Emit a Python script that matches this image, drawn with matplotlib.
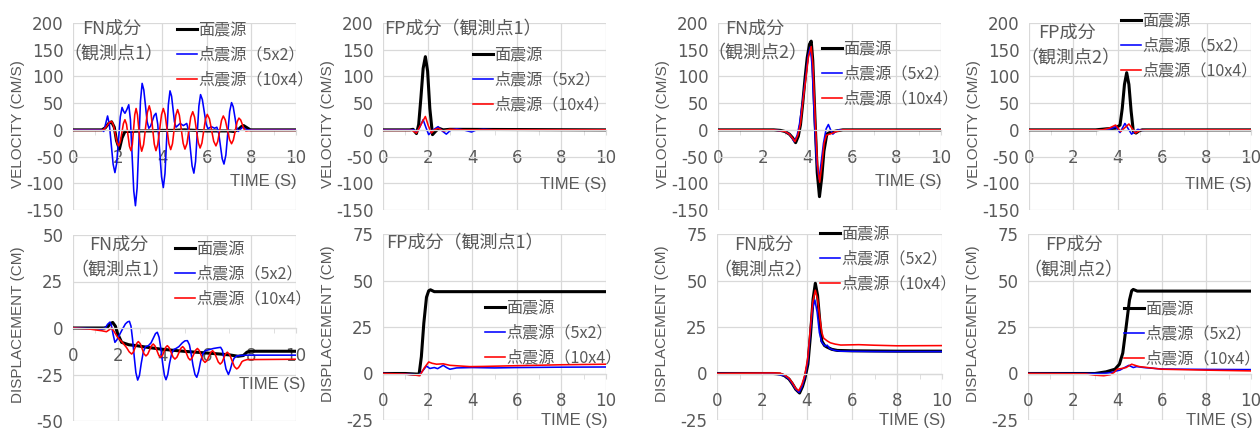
import matplotlib
matplotlib.use("Agg")
import matplotlib.pyplot as plt
from matplotlib.ticker import MultipleLocator

plt.rcParams["axes.unicode_minus"] = False

# ---------------------------------------------------------------- data
SERIES_LABELS = ["面震源", "点震源（5x2）", "点震源（10x4）"]
SERIES_COLORS = ["#000000", "#0000ff", "#ff0000"]
XTICKS = [0, 2, 4, 6, 8, 10]

# FN velocity, observation point 1
fn1_vel_area_t = [0, 1.3, 1.45, 1.6, 1.73, 1.85, 1.95, 2.08, 2.2, 2.33, 2.6, 3.0, 3.5, 4.0, 4.5,
                  5.0, 5.5, 6.0, 6.5, 7.0, 7.2, 7.4, 7.55, 7.65, 7.8, 7.95, 8.2, 10]
fn1_vel_area_v = [0, 0, 4, 12, 15, 5, -20, -36, -15, -3, -3, -2, -2, -1, -1,
                  0, -1, -2, -2, -2, -3, 0, 6, 8, 4, 0, 0, 0]
fn1_vel_5x2_t = [0, 1.3, 1.38, 1.465, 1.55, 1.63, 1.715, 1.8, 1.88, 1.96, 2.04, 2.12, 2.2, 2.265,
                 2.33, 2.415, 2.5, 2.575, 2.65, 2.725, 2.8, 2.875, 2.95, 3.025, 3.1, 3.175,
                 3.25, 3.325, 3.4, 3.48, 3.56, 3.64, 3.72, 3.8, 3.885, 3.97, 4.05, 4.125,
                 4.2, 4.275, 4.35, 4.42, 4.485, 4.55, 4.62, 4.8, 4.95, 5.1, 5.18, 5.26, 5.34,
                 5.42, 5.495, 5.57, 5.645, 5.72, 5.8, 5.885, 5.97, 6.05, 6.2, 6.35, 6.45,
                 6.53, 6.61, 6.69, 6.77, 6.855, 6.94, 7.025, 7.11, 7.185, 7.26, 7.335, 7.41,
                 7.6, 7.8, 10]
fn1_vel_5x2_v = [0, 0, -3, 11.5, 26, 10.5, -27, -64.5, -80, -62.2, -19, 24.2, 42, 35,
                 31, 38, 47, 19.4, -47.5, -114.4, -142, -108.6, -27.5, 53.6, 87, 74.7,
                 45, 15.3, 3, 7.1, 17, 26.9, 31, 10.7, -38.5, -87.7, -108, -81.6,
                 -17.5, 46.6, 73, 63, 39, 15, 5, 12, 8, 12, -1.6, -34.5, -67.4,
                 -81, -59.5, -7.5, 44.5, 66, 56.7, 34, 11.3, 2, 6, 3, 5,
                 -5, -29.5, -54, -64, -47.2, -6.5, 34.2, 51, 43.1, 24, 4.9, -3,
                 5, 0, 0]
fn1_vel_10x4_t = [0, 1.3, 1.41, 1.52, 1.62, 1.73, 1.81, 1.89, 1.97, 2.05, 2.12, 2.19, 2.26,
                  2.33, 2.40, 2.465, 2.53, 2.6, 2.66, 2.715, 2.77, 2.83, 2.89, 2.955, 3.02,
                  3.08, 3.165, 3.25, 3.335, 3.42, 3.495, 3.57, 3.645, 3.72, 3.8, 3.885, 3.97,
                  4.05, 4.13, 4.215, 4.3, 4.38, 4.46, 4.535, 4.61, 4.69, 4.77, 4.855, 4.94,
                  5.02, 5.11, 5.195, 5.28, 5.37, 5.45, 5.535, 5.62, 5.7, 5.78, 5.86, 5.94,
                  6.02, 6.12, 6.215, 6.31, 6.41, 6.49, 6.575, 6.66, 6.74, 6.83, 6.925, 7.02,
                  7.11, 7.19, 7.275, 7.36, 7.44, 7.52, 7.595, 7.67, 7.75, 8.0, 10]
fn1_vel_10x4_v = [-1, -1, 1.5, 7.5, 13.5, 16, 9.3, -7, -23.3, -30, -22.8, -5.5, 11.8,
                  19, 10.5, -10, -30.5, -39, -27.5, 0.5, 28.5, 40, 28.3, 0, -28.3,
                  -40, -27.6, 2.5, 32.6, 45, 32.7, 3, -26.7, -39, -27.5, 0.5, 28.5,
                  40, 28.8, 1.5, -25.8, -37, -26, 0.5, 27, 38, 27.2, 1, -25.2,
                  -36, -25.8, -1, 23.8, 34, 24, 0, -24, -34, -24.8, -2.5, 19.8,
                  29, 20.4, -0.5, -21.4, -30, -21.8, -2, 17.8, 26, 18.4, 0, -18.4,
                  -26, -19, -2, 15, 22, 18.5, 10, 1.5, -2, -1, -1]

# FP velocity, observation point 1
fp1_vel_area_t = [0, 1.2, 1.35, 1.5, 1.6, 1.7, 1.8, 1.9, 2.0, 2.1, 2.22, 2.35, 2.5, 2.7, 3.0, 10]
fp1_vel_area_v = [0, 0, 1, -7, 10, 60, 115, 137, 110, 40, -9, -3, 3, 0, 1, 0]
fp1_vel_5x2_t = [0, 1.4, 1.5, 1.65, 1.8, 1.92, 2.05, 2.25, 2.47, 2.65, 2.84, 3.05, 3.3, 3.6,
                 3.97, 4.2, 4.5, 5.0, 10]
fp1_vel_5x2_v = [0, 0, -5, 5, 19, 5, -9, 0, 6, -2, -8, 0, 2, 0, -4, 0, 1, 0, 0]
fp1_vel_10x4_t = [0, 1.3, 1.5, 1.7, 1.9, 2.03, 2.17, 2.3, 2.47, 2.7, 3.0, 3.5, 10]
fp1_vel_10x4_v = [-1, -1, -6, 10, 25, 8, -6, 0, 3, -2, 1, 0, 0]

# FN velocity, observation point 2
fn2_vel_area_t = [0, 2.5, 2.8, 3.0, 3.2, 3.35, 3.48, 3.6, 3.7, 3.8, 3.9, 4.0, 4.1, 4.18, 4.25,
                  4.35, 4.45, 4.55, 4.65, 4.75, 4.88, 5.0, 5.15, 5.3, 5.6, 10]
fn2_vel_area_v = [0, 0, -1, -3, -8, -15, -24, -12, 10, 50, 95, 135, 160, 166, 130,
                  20, -80, -125, -90, -40, -8, -5, -4, -2, 0, 0]
fn2_vel_5x2_t = [0, 2.5, 3.0, 3.2, 3.3, 3.42, 3.55, 3.65, 3.8, 3.95, 4.05, 4.14, 4.22, 4.32,
                 4.42, 4.53, 4.63, 4.73, 4.85, 4.95, 5.05, 5.15, 5.25, 5.4, 10]
fn2_vel_5x2_v = [0, 0, -3, -8, -14, -22, -10, 10, 55, 105, 140, 155, 120, 20,
                 -60, -92, -60, -25, 2, 10, 0, -8, -4, 0, 0]
fn2_vel_10x4_t = [0, 2.5, 3.0, 3.2, 3.33, 3.45, 3.58, 3.7, 3.8, 3.95, 4.05, 4.18, 4.26, 4.36,
                  4.46, 4.56, 4.66, 4.76, 4.86, 5.0, 5.15, 5.3, 5.6, 10]
fn2_vel_10x4_v = [0, 0, -3, -8, -15, -22, -10, 12, 50, 100, 135, 156, 120, 20,
                  -65, -98, -65, -25, -10, -8, -6, -3, 0, 0]

# FP velocity, observation point 2
fp2_vel_area_t = [0, 3.0, 3.5, 3.9, 4.1, 4.2, 4.3, 4.4, 4.5, 4.6, 4.7, 4.82, 4.95, 5.1, 10]
fp2_vel_area_v = [0, 0, 2, 3, 9, 40, 85, 107, 85, 35, -3, -6, -2, 0, 0]
fp2_vel_5x2_t = [0, 3.5, 3.75, 3.9, 4.1, 4.32, 4.62, 4.9, 5.1, 5.4, 10]
fp2_vel_5x2_v = [0, 0, 3, 6, -5, 12, -8, 1, -1, 0, 0]
fp2_vel_10x4_t = [0, 3.3, 3.6, 3.9, 4.13, 4.5, 4.8, 5.0, 5.3, 10]
fp2_vel_10x4_v = [0, 0, 3, 9, -3, 11, -6, -1, 0, 0]

# FN displacement, observation point 1
fn1_disp_area_t = [0, 1.4, 1.55, 1.65, 1.78, 1.9, 2.0, 2.18, 2.5, 2.85, 3.4, 3.9, 4.5, 4.95,
                   5.5, 6.15, 6.6, 7.04, 7.4, 7.64, 7.8, 7.95, 10]
fn1_disp_area_v = [0, 0, 0.5, 2, 3, 1, -3, -7.7, -9, -9.5, -10.5, -11.3, -12, -12.5,
                   -13, -13.6, -14, -14.5, -15.2, -14.8, -13, -12.5, -12.5]
fn1_disp_5x2_t = [0, 1.3, 1.45, 1.55, 1.66, 1.72, 1.8, 1.88, 1.96, 2.05, 2.2, 2.35, 2.45, 2.53,
                  2.6, 2.67, 2.75, 2.82, 2.9, 2.98, 3.06, 3.15, 3.25, 3.38, 3.5, 3.6, 3.7,
                  3.78, 3.86, 3.94, 4.02, 4.1, 4.17, 4.25, 4.33, 4.42, 4.52, 4.62, 4.75, 4.9,
                  5.02, 5.13, 5.22, 5.3, 5.38, 5.47, 5.55, 5.63, 5.72, 5.82, 5.92, 6.05, 6.3,
                  6.5, 6.62, 6.7, 6.78, 6.86, 6.97, 7.05, 7.13, 7.22, 7.34, 7.5, 7.8, 10]
fn1_disp_5x2_v = [0, -0.5, 0, 2, 3.2, 1.5, -3.5, -7.7, -6.5, -4.5, -1, 2.2, 3.3, 3.6,
                  1, -6, -16, -24, -28, -25.5, -19, -13, -10, -9.5, -8, -5.5, -3,
                  -2.3, -5, -11, -19, -25.5, -27.8, -25, -19, -14, -11.5, -11, -10, -8,
                  -6.9, -6.8, -9, -14, -20, -25, -26.5, -23.5, -18, -14, -12.3, -11.8, -11,
                  -10.6, -10.4, -12, -17, -22, -25, -22.5, -19, -16.3, -15, -14.8, -14.6, -14.6]
fn1_disp_10x4_t = [0, 0.7, 1.3, 1.5, 1.62, 1.73, 1.85, 2.0, 2.2, 2.4, 2.52, 2.63, 2.705, 2.78,
                   2.855, 2.93, 3.015, 3.1, 3.185, 3.27, 3.35, 3.435, 3.52, 3.6, 3.68, 3.765,
                   3.85, 3.93, 4.005, 4.08, 4.155, 4.23, 4.315, 4.4, 4.485, 4.57, 4.66, 4.745,
                   4.83, 4.92, 5.0, 5.085, 5.17, 5.25, 5.33, 5.415, 5.5, 5.58, 5.665, 5.75,
                   5.835, 5.92, 6.005, 6.09, 6.175, 6.26, 6.345, 6.43, 6.515, 6.6, 6.68, 6.76,
                   6.84, 6.92, 7.025, 7.13, 7.235, 7.34, 7.42, 7.5, 7.57, 7.64, 7.8, 10]
fn1_disp_10x4_v = [0, -0.5, -1.5, -2, -1, 0, -2, -5, -7.5, -10.5, -12.8, -14, -13, -10.7,
                   -8.3, -7.3, -8.4, -11.2, -13.9, -15, -14.1, -11.8, -9.5, -8.6, -9.7, -12.2,
                   -14.8, -15.8, -14.9, -12.7, -10.4, -9.5, -10.6, -13.1, -15.6, -16.7, -15.7, -13.4,
                   -11, -10, -11.1, -13.6, -16.1, -17.2, -16.3, -14.1, -11.9, -11, -12.1, -14.8,
                   -17.4, -18.5, -17.6, -15.4, -13.1, -12.2, -13.3, -15.8, -18.3, -19.4, -18.5, -16.2,
                   -13.9, -13, -14.3, -17.5, -20.7, -22, -21.3, -19.8, -18.2, -17.6, -17, -16.8]

# FP displacement, observation point 1
fp1_disp_area_t = [0, 1.0, 1.5, 1.62, 1.72, 1.83, 1.95, 2.05, 2.13, 2.3, 3.0, 10]
fp1_disp_area_v = [0, 0, -0.3, -0.3, 9, 27, 41, 44.5, 45, 44, 44, 44]
fp1_disp_5x2_t = [0, 1.0, 1.4, 1.6, 1.75, 1.95, 2.1, 2.3, 2.45, 2.7, 2.85, 3.0, 3.3, 4.0,
                  5.0, 6.0, 8.0, 10]
fp1_disp_5x2_v = [0, -0.3, -0.6, -1, 1, 4, 2.7, 3.2, 2.6, 4.4, 3.2, 2.3, 3, 3.2,
                  3, 3.2, 3.4, 3.5]
fp1_disp_10x4_t = [0, 1.0, 1.4, 1.65, 1.85, 2.05, 2.2, 2.4, 2.7, 3.0, 3.5, 3.9, 4.5, 6.0, 8.0, 10]
fp1_disp_10x4_v = [0, -0.3, -0.8, -1.2, 3, 6.2, 5.5, 5, 5.2, 4.4, 4, 3.7, 3.8, 4.2, 4.7, 5]

# FN displacement, observation point 2
fn2_disp_area_t = [0, 2.5, 2.8, 3.0, 3.2, 3.35, 3.5, 3.67, 3.8, 3.9, 4.04, 4.15, 4.27, 4.37,
                   4.47, 4.57, 4.66, 4.78, 4.89, 5.1, 5.35, 6.0, 8.0, 10]
fn2_disp_area_v = [0, 0, -0.3, -1.2, -3, -5.5, -8.5, -10.5, -7, -3, 5, 20, 40, 48.5,
                   42, 28, 17.4, 15, 14.2, 13, 12.4, 12.2, 12, 12]
fn2_disp_5x2_t = [0, 2.5, 3.0, 3.2, 3.35, 3.5, 3.65, 3.78, 3.9, 4.03, 4.13, 4.25, 4.35, 4.45,
                  4.55, 4.65, 4.74, 4.81, 4.9, 5.0, 5.2, 5.5, 7.0, 10]
fn2_disp_5x2_v = [0, 0, -1.2, -3, -5.5, -8.5, -10.2, -7, -2, 6, 20, 35, 39.5, 33,
                  22, 17, 15.6, 14.7, 15.2, 13.5, 12.5, 12, 11.8, 11.8]
fn2_disp_10x4_t = [0, 2.5, 2.8, 3.0, 3.2, 3.35, 3.5, 3.63, 3.77, 3.9, 4.03, 4.13, 4.25, 4.37,
                   4.47, 4.57, 4.66, 4.74, 4.9, 5.04, 5.25, 5.5, 6.3, 7.0, 8.0, 10]
fn2_disp_10x4_v = [0, 0.3, 0.2, -0.8, -2.5, -5, -8, -9.3, -6, -1, 8, 22, 38, 44.8,
                   40, 30, 22, 19, 17.5, 16.5, 15.8, 15.3, 15.5, 15.2, 14.9, 15]

# FP displacement, observation point 2
fp2_disp_area_t = [0, 3.0, 3.5, 3.9, 4.1, 4.25, 4.4, 4.55, 4.65, 4.72, 4.9, 10]
fp2_disp_area_v = [0, 0, 0.9, 2.3, 5, 11, 25, 39.5, 44.5, 45.2, 44.3, 44.3]
fp2_disp_5x2_t = [0, 3.3, 3.6, 3.8, 3.97, 4.12, 4.3, 4.52, 4.72, 4.87, 5.2, 6.0, 8.0, 10]
fp2_disp_5x2_v = [0, 0, 0.3, 0.7, 1.4, 1.8, 3, 4.4, 3.2, 3.7, 3.2, 2.4, 2.2, 2.1]
fp2_disp_10x4_t = [0, 2.6, 3.0, 3.4, 3.7, 3.85, 4.0, 4.2, 4.4, 4.65, 4.85, 5.0, 5.5, 6.0, 8.0, 10]
fp2_disp_10x4_v = [0, -0.2, -0.9, -1.2, -0.6, 0.5, 2.3, 2.7, 3.2, 5, 4.2, 3.7, 3, 2.3, 1.8, 1.4]

# ---------------------------------------------------------------- layout
W, H = 1260, 430
TEXT = "#595959"
GRID = "#d9d9d9"
JP = ["Noto Sans CJK JP", "DejaVu Sans"]
LATIN = ["Liberation Sans", "DejaVu Sans"]

fig = plt.figure(figsize=(W / 100, H / 100), dpi=100)


def fx(px):
    return px / W


def fy(py):
    return 1 - py / H


panels = [
    dict(box=(73, 23, 296, 210), ylim=(-150, 200), step=50, ylabel="VELOCITY (CM/S)",
         series=[(fn1_vel_area_t, fn1_vel_area_v), (fn1_vel_5x2_t, fn1_vel_5x2_v),
                 (fn1_vel_10x4_t, fn1_vel_10x4_v)],
         title=[("FN成分", 112, 29), ("（観測点1）", 113, 54)], title_ha="center",
         legend=(177, 34), time=(297, 182)),
    dict(box=(383, 23, 606, 210), ylim=(-150, 200), step=50, ylabel="VELOCITY (CM/S)",
         series=[(fp1_vel_area_t, fp1_vel_area_v), (fp1_vel_5x2_t, fp1_vel_5x2_v),
                 (fp1_vel_10x4_t, fp1_vel_10x4_v)],
         title=[("FP成分（観測点1）", 384, 29)], title_ha="left",
         legend=(473, 59), time=(607, 184)),
    dict(box=(718, 23, 941, 210), ylim=(-150, 200), step=50, ylabel="VELOCITY (CM/S)",
         series=[(fn2_vel_area_t, fn2_vel_area_v), (fn2_vel_5x2_t, fn2_vel_5x2_v),
                 (fn2_vel_10x4_t, fn2_vel_10x4_v)],
         title=[("FN成分", 755, 29), ("（観測点2）", 757, 53)], title_ha="center",
         legend=(822, 53), time=(942, 182)),
    dict(box=(1029, 23, 1251, 210), ylim=(-150, 200), step=50, ylabel="VELOCITY (CM/S)",
         series=[(fp2_vel_area_t, fp2_vel_area_v), (fp2_vel_5x2_t, fp2_vel_5x2_v),
                 (fp2_vel_10x4_t, fp2_vel_10x4_v)],
         title=[("FP成分", 1067, 33), ("（観測点2）", 1070, 58)], title_ha="center",
         legend=(1121, 25), time=(1252, 185)),
    dict(box=(73, 235, 296, 421), ylim=(-50, 50), step=25, ylabel="DISPLACEMENT (CM)",
         series=[(fn1_disp_area_t, fn1_disp_area_v), (fn1_disp_5x2_t, fn1_disp_5x2_v),
                 (fn1_disp_10x4_t, fn1_disp_10x4_v)],
         title=[("FN成分", 119, 245), ("（観測点1）", 120, 270)], title_ha="center",
         legend=(175, 253), time=(306, 384)),
    dict(box=(383, 234, 606, 420), ylim=(-25, 75), step=25, ylabel="DISPLACEMENT (CM)",
         series=[(fp1_disp_area_t, fp1_disp_area_v), (fp1_disp_5x2_t, fp1_disp_5x2_v),
                 (fp1_disp_10x4_t, fp1_disp_10x4_v)],
         title=[("FP成分（観測点1）", 386, 243)], title_ha="left",
         legend=(485, 312), time=(608, 421)),
    dict(box=(717, 234, 942, 420), ylim=(-25, 75), step=25, ylabel="DISPLACEMENT (CM)",
         series=[(fn2_disp_area_t, fn2_disp_area_v), (fn2_disp_5x2_t, fn2_disp_5x2_v),
                 (fn2_disp_10x4_t, fn2_disp_10x4_v)],
         title=[("FN成分", 764, 245), ("（観測点2）", 763, 270)], title_ha="center",
         legend=(820, 238), time=(946, 421)),
    dict(box=(1028, 234, 1251, 420), ylim=(-25, 75), step=25, ylabel="DISPLACEMENT (CM)",
         series=[(fp2_disp_area_t, fp2_disp_area_v), (fp2_disp_5x2_t, fp2_disp_5x2_v),
                 (fp2_disp_10x4_t, fp2_disp_10x4_v)],
         title=[("FP成分", 1074, 245), ("（観測点2）", 1073, 270)], title_ha="center",
         legend=(1124, 313), time=(1253, 421)),
]

for p in panels:
    l, t, r, b = p["box"]
    ax = fig.add_axes([fx(l), fy(b), (r - l) / W, (b - t) / H])
    ax.patch.set_alpha(0)

    widths = [2.2, 1.15, 1.15]
    for (xs, ys), lab, col, lw in zip(p["series"], SERIES_LABELS, SERIES_COLORS, widths):
        ax.plot(xs, ys, color=col, lw=lw, label=lab, solid_joinstyle="round")

    ax.set_xlim(0, 10)
    ax.set_ylim(*p["ylim"])
    ax.set_xticks(XTICKS)
    ax.xaxis.set_minor_locator(MultipleLocator(1))
    ax.yaxis.set_major_locator(MultipleLocator(p["step"]))
    ax.grid(True, which="major", color=GRID, lw=0.9)
    ax.set_axisbelow(True)

    for side in ("top", "right", "left"):
        ax.spines[side].set_visible(False)
    ax.spines["bottom"].set_position(("data", 0))
    ax.spines["bottom"].set_color(GRID)
    ax.spines["bottom"].set_linewidth(0.9)

    ax.tick_params(axis="x", which="both", length=3.5, color=GRID, direction="out",
                   pad=10, labelsize=12, labelcolor=TEXT)
    ax.tick_params(axis="y", length=0, pad=7, labelsize=12, labelcolor=TEXT)
    for lbl in ax.get_xticklabels() + ax.get_yticklabels():
        lbl.set_family("DejaVu Sans")

    ax.set_ylabel(p["ylabel"], family=LATIN, fontsize=11, color=TEXT)
    ax.yaxis.set_label_coords(-0.215, 0.46 if p["ylim"][1] == 200 else 0.52)

    tx, ty = p["time"]
    fig.text(fx(tx), fy(ty), "TIME (S)", ha="right", va="center", family=LATIN,
             fontsize=12, color=TEXT)

    for txt, x, y in p["title"]:
        fig.text(fx(x), fy(y), txt, ha=p["title_ha"], va="center", family=JP,
                 fontsize=13, color=TEXT)

    lx, ly = p["legend"]
    ax.legend(loc="upper left", bbox_to_anchor=(fx(lx), fy(ly - 12)),
              bbox_transform=fig.transFigure, frameon=False, borderpad=0,
              borderaxespad=0, handlelength=1.25, handletextpad=0.05,
              labelspacing=0.47, prop=dict(family=JP, size=11.6), labelcolor=TEXT)

fig.savefig("out.png", dpi=100)
